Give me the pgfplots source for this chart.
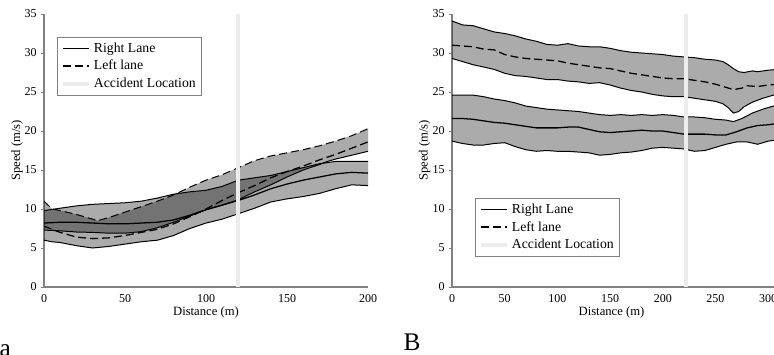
\documentclass[border=0pt]{standalone}
\usepackage{pgfplots}
\pgfplotsset{compat=1.18}
\usepgfplotslibrary{fillbetween}
\usepackage{fontspec}
\setmainfont{Liberation Serif}
\definecolor{acc}{RGB}{236,236,236}
\definecolor{axgray}{RGB}{128,128,128}
\pgfplotsset{
  panel/.style={
    scale only axis,
    height=204.75pt,
    ymin=0, ymax=35,
    ytick={0,5,...,35},
    axis x line*=bottom, axis y line*=left,
    axis line style={axgray, line width=1.1pt, -},
    ytick style={axgray, line width=0.6pt},
    xtick style={draw=none},
    major tick length=2pt,
    tick align=outside,
    /pgf/number format/assume math mode=true,
    ticklabel style={font=\fontsize{9}{10}\selectfont},
    label style={font=\fontsize{9.5}{10}\selectfont},
    ylabel={Speed (m/s)},
    xlabel={Distance (m)},
    xlabel style={at={(axis description cs:0.5,-0.095)}, anchor=center},
    legend cell align=left,
    legend image code/.code={\draw[##1] (0pt,0pt) -- (20pt,0pt);},
    legend style={draw=axgray, line width=0.5pt, fill=white,
      font=\fontsize{10.3}{11}\selectfont,
      row sep=0.6pt, inner xsep=2.5pt, inner ysep=2pt},
  },
  bnd/.style={draw=black, line width=0.75pt},
  mn/.style={draw=black, line width=0.95pt},
  dsh/.style={dash pattern=on 6pt off 3pt},
  band/.style={fill=black, fill opacity=0.33, draw=none},
}
\begin{document}
\begin{tikzpicture}

% ---------------- Panel a ----------------
\begin{axis}[panel, width=243pt, at={(33pt,50.25pt)}, anchor=south west,
  xmin=0, xmax=200, xtick={0,50,...,200},
  ylabel style={at={(axis description cs:-0.083,0.5)}, anchor=center},
  legend style={at={(axis description cs:0.04,0.916)}, anchor=north west}]
\addlegendimage{black, line width=1pt}
\addlegendentry{Right Lane}
\addlegendimage{black, line width=1pt, dsh}
\addlegendentry{Left lane}
\addlegendimage{acc, line width=3pt}
\addlegendentry{Accident Location}

% right lane
\addplot[bnd, name path=arhi, forget plot] coordinates {(0,9.8) (10,10.1) (20,10.4) (30,10.6) (40,10.7) (50,10.8) (60,11.0) (70,11.4) (80,11.9) (90,12.2) (100,12.4) (110,12.9) (120,13.7) (130,14.0) (140,14.3) (150,14.8) (160,15.3) (170,15.8) (180,16.1) (190,16.1) (200,16.1)};
\addplot[bnd, name path=arlo, forget plot] coordinates {(0,6.0) (5,5.8) (10,5.7) (20,5.3) (30,5.0) (40,5.2) (50,5.5) (60,5.8) (70,6.0) (80,6.6) (90,7.5) (100,8.2) (110,8.7) (120,9.4) (130,10.1) (140,10.9) (150,11.3) (160,11.6) (170,12.0) (180,12.6) (190,13.1) (200,13.0)};
\addplot[mn, forget plot] coordinates {(0,8.2) (10,8.3) (20,8.3) (30,8.2) (40,8.1) (50,8.1) (60,8.2) (70,8.3) (80,8.6) (90,9.2) (100,9.9) (110,10.5) (120,11.1) (130,11.8) (140,12.6) (150,13.2) (160,13.7) (170,14.1) (180,14.5) (190,14.7) (200,14.6)};
\addplot[band, forget plot] fill between[of=arhi and arlo];

% left lane
\addplot[bnd, dsh, name path=alhi, forget plot] coordinates {(0,11.0) (5,10.0) (10,9.8) (20,9.3) (30,8.7) (33,8.5) (40,8.9) (50,9.6) (60,10.3) (70,11.0) (80,11.8) (90,12.8) (100,13.7) (110,14.4) (120,15.3) (130,16.2) (140,16.8) (150,17.2) (160,17.6) (170,18.1) (180,18.7) (190,19.4) (200,20.3)};
\addplot[bnd, name path=allo, forget plot] coordinates {(0,7.3) (10,7.2) (20,7.05) (30,7.0) (40,6.9) (50,6.9) (60,7.1) (70,7.6) (80,8.3) (90,9.1) (100,9.9) (110,10.5) (120,11.2) (130,12.2) (140,13.1) (150,14.1) (160,15.0) (170,15.7) (175,16.1) (180,16.4) (190,16.9) (200,17.4)};
\addplot[mn, dsh, forget plot] coordinates {(0,7.8) (10,7.0) (20,6.4) (30,6.2) (40,6.3) (50,6.6) (60,7.0) (70,7.4) (80,8.1) (90,9.0) (100,10.0) (110,11.1) (120,12.1) (130,13.0) (140,14.0) (150,14.8) (160,15.5) (170,16.3) (180,17.0) (190,17.8) (200,18.6)};
\addplot[band, forget plot] fill between[of=alhi and allo];

\addplot[acc, line width=3pt, forget plot] coordinates {(120,0) (120,35)};
\end{axis}

% ---------------- Panel B ----------------
\begin{axis}[panel, width=242.2pt, at={(339pt,50.25pt)}, anchor=south west,
  xmin=0, xmax=306.4, xtick={0,50,...,300},
  ylabel style={at={(axis description cs:-0.085,0.5)}, anchor=center},
  xlabel style={at={(axis description cs:0.494,-0.095)}, anchor=center},
  legend style={at={(axis description cs:0.071,0.326)}, anchor=north west}]
\addlegendimage{black, line width=1pt}
\addlegendentry{Right Lane}
\addlegendimage{black, line width=1pt, dsh}
\addlegendentry{Left lane}
\addlegendimage{acc, line width=3pt}
\addlegendentry{Accident Location}

% left lane
\addplot[bnd, name path=blhi, forget plot] coordinates {(0,34.1) (10,33.6) (20,33.5) (30,33.1) (40,32.7) (50,32.5) (60,32.2) (70,31.8) (80,31.5) (90,31.1) (100,31.0) (110,31.2) (120,30.9) (130,30.8) (140,30.8) (150,30.6) (160,30.3) (170,30.1) (180,30.0) (190,29.9) (200,29.8) (210,29.6) (220,29.5) (230,29.4) (240,29.2) (250,29.1) (257,28.9) (262,28.5) (267,28.0) (272,27.6) (277,27.5) (285,27.7) (290,27.6) (300,27.8) (310,27.9) (320,28.0)};
\addplot[bnd, name path=bllo, forget plot] coordinates {(0,29.3) (10,28.9) (20,28.5) (30,28.2) (40,27.9) (50,27.4) (60,27.1) (70,27.0) (80,26.8) (90,26.6) (100,26.6) (110,26.4) (120,26.3) (130,26.1) (140,26.2) (150,25.9) (160,25.5) (170,25.2) (180,25.0) (190,24.7) (200,24.5) (210,24.4) (220,24.4) (230,24.2) (240,24.0) (250,23.8) (257,23.5) (262,23.0) (267,22.3) (272,22.5) (277,23.1) (285,23.7) (295,24.2) (305,24.6) (320,24.9)};
\addplot[mn, dsh, forget plot] coordinates {(0,31.0) (10,30.9) (20,30.8) (30,30.5) (40,30.4) (50,29.8) (60,29.5) (70,29.3) (80,29.2) (90,29.1) (100,29.0) (110,28.7) (120,28.5) (130,28.3) (140,28.1) (150,28.0) (160,27.7) (170,27.4) (180,27.2) (190,27.0) (200,26.8) (210,26.7) (220,26.7) (230,26.5) (240,26.3) (250,26.0) (260,25.6) (267,25.3) (275,25.5) (280,25.8) (290,25.7) (300,25.9) (310,26.0) (320,26.1)};
\addplot[band, forget plot] fill between[of=blhi and bllo];

% right lane
\addplot[bnd, name path=brhi, forget plot] coordinates {(0,24.6) (10,24.6) (20,24.6) (30,24.4) (40,24.1) (50,23.9) (60,23.6) (70,23.2) (80,23.0) (90,22.8) (100,22.7) (110,22.6) (120,22.5) (130,22.3) (140,22.1) (150,22.0) (160,22.1) (170,22.0) (180,22.1) (190,22.0) (200,22.1) (210,22.0) (220,21.8) (230,21.8) (240,21.7) (250,21.5) (260,21.4) (267,21.2) (275,21.6) (285,22.3) (295,22.8) (305,23.2) (320,23.4)};
\addplot[bnd, name path=brlo, forget plot] coordinates {(0,18.7) (10,18.4) (20,18.2) (30,18.2) (40,18.4) (50,18.5) (60,18.0) (70,17.6) (80,17.4) (90,17.5) (100,17.4) (110,17.4) (120,17.3) (130,17.2) (140,16.9) (150,17.0) (160,17.2) (170,17.3) (180,17.5) (190,17.8) (200,17.9) (210,17.8) (220,17.7) (230,17.4) (240,17.5) (250,17.9) (260,18.3) (270,18.6) (280,18.6) (290,18.3) (300,18.7) (310,18.9) (320,19.0)};
\addplot[mn, forget plot] coordinates {(0,21.6) (10,21.6) (20,21.5) (30,21.3) (40,21.1) (50,21.0) (60,20.8) (70,20.6) (80,20.4) (90,20.4) (100,20.4) (110,20.5) (120,20.5) (130,20.2) (140,19.9) (150,19.8) (160,19.9) (170,20.0) (180,20.1) (190,20.0) (200,20.0) (210,19.8) (220,19.6) (230,19.6) (240,19.6) (250,19.5) (260,19.5) (270,19.9) (280,20.4) (290,20.7) (300,20.8) (310,21.0) (320,21.1)};
\addplot[band, forget plot] fill between[of=brhi and brlo];

\addplot[acc, line width=3pt, forget plot] coordinates {(222,0) (222,35)};
\end{axis}

\node[anchor=base west, inner sep=0pt, font=\fontsize{19}{20}\selectfont] at (-0.5pt,-2pt) {a};
\node[anchor=base west, inner sep=0pt, font=\fontsize{19}{20}\selectfont] at (302.5pt,3pt) {B};
\pgfresetboundingbox
\path[use as bounding box] (0,0) rectangle (580.5pt,265.5pt);
\end{tikzpicture}
\end{document}
